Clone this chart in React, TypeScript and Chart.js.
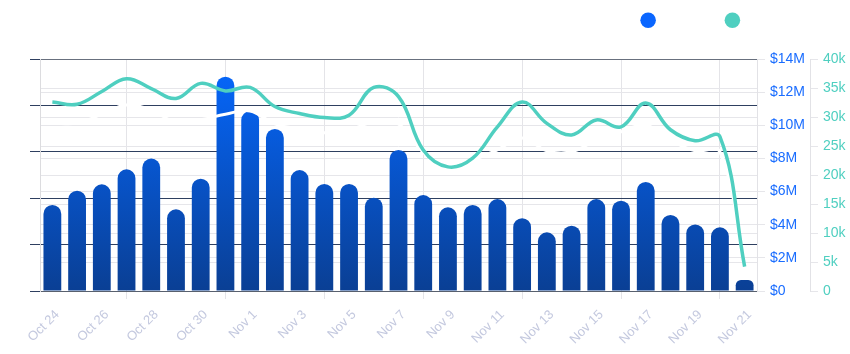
import React, { useEffect, useRef } from "react";
import { Chart, registerables } from "chart.js";

Chart.register(...registerables);

const categories = [
  "Oct 24", "Oct 25", "Oct 26", "Oct 27", "Oct 28", "Oct 29", "Oct 30", "Oct 31",
  "Nov 1", "Nov 2", "Nov 3", "Nov 4", "Nov 5", "Nov 6", "Nov 7", "Nov 8", "Nov 9",
  "Nov 10", "Nov 11", "Nov 12", "Nov 13", "Nov 14", "Nov 15", "Nov 16", "Nov 17",
  "Nov 18", "Nov 19", "Nov 20", "Nov 21",
];

// Volume in millions of USD
const volumeMillions = [
  5.19, 6.05, 6.44, 7.34, 7.99, 4.93, 6.78, 12.93, 10.86, 9.78, 7.3, 6.46, 6.46, 5.63,
  8.51, 5.79, 5.05, 5.19, 5.55, 4.39, 3.54, 3.94, 5.55, 5.45, 6.58, 4.59, 4.02, 3.84, 0.66,
];

// Transactions in thousands
const transactionsK = [
  32.6, 32.2, 34.4, 36.6, 34.9, 33.2, 35.8, 34.5, 35.1, 31.8, 30.6, 29.9, 30.3, 35.1,
  33.5, 24.3, 21.4, 22.9, 28.3, 32.6, 28.9, 26.9, 29.5, 28.3, 32.4, 27.8, 25.9, 26.6, 4.2,
];

// Hidden (white) series on the left axis
const hiddenSeries = [
  36.2, 36.2, 38.1, 40.1, 39.0, 36.4, 36.9, 38.1, 38.8, 36.0, 34.9, 34.1, 34.7, 36.4,
  36.0, 29.9, 26.5, 28.2, 30.4, 33.0, 30.2, 30.0, 32.5, 34.3, 35.8, 32.5, 30.2, 30.0, 5.2,
];

const volumeTicksM = [0, 2, 4, 6, 8, 10, 12, 14];
const txTicksK = [0, 5, 10, 15, 20, 25, 30, 35, 40];
const seriesNames = ["Volume", "Transactions"];

const FONT = "'Liberation Sans', Arial, Helvetica, sans-serif";
const BLUE = "#0a66ff";
const TEAL = "#4fcfc0";
const LIGHT_GRID = "#e6e6ea";
const TOP_GRID = "#68707e";

export default function App() {
  const canvasRef = useRef<HTMLCanvasElement | null>(null);

  useEffect(() => {
    const canvas = canvasRef.current;
    if (!canvas) return;

    const legendSpacer = {
      id: "legendSpacer",
      beforeInit(chart: any) {
        const legend = chart.legend;
        if (!legend) return;
        const origFit = legend.fit;
        legend.fit = function () {
          origFit.call(this);
          this.height = 57;
        };
      },
    };

    const rightGridColor = (max: number) => (ctx: any) =>
      ctx.tick && ctx.tick.value === max ? TOP_GRID : LIGHT_GRID;

    const chart = new Chart(canvas, {
      type: "bar",
      data: {
        labels: categories,
        datasets: [
          {
            type: "bar",
            label: seriesNames[0],
            data: volumeMillions,
            yAxisID: "y",
            order: 2,
            borderRadius: 9,
            borderWidth: 0,
            backgroundColor: (ctx: any) => {
              const area = ctx.chart.chartArea;
              if (!area) return BLUE;
              const g = ctx.chart.ctx.createLinearGradient(0, area.bottom, 0, area.top);
              g.addColorStop(0, "#0a3f94");
              g.addColorStop(1, "#0568ff");
              return g;
            },
          } as any,
          {
            type: "line",
            label: "hidden",
            data: hiddenSeries,
            yAxisID: "yL",
            order: 1,
            borderColor: "#ffffff",
            borderWidth: 3,
            pointRadius: 0,
            tension: 0.4,
            fill: false,
          } as any,
          {
            type: "line",
            label: seriesNames[1],
            data: transactionsK,
            yAxisID: "y2",
            order: 0,
            borderColor: TEAL,
            backgroundColor: TEAL,
            borderWidth: 3.5,
            pointRadius: 0,
            tension: 0.4,
            fill: false,
          } as any,
        ],
      },
      options: {
        animation: false,
        responsive: true,
        maintainAspectRatio: false,
        layout: { padding: { top: 2, left: 0, right: 0, bottom: 0 } },
        plugins: {
          tooltip: { enabled: false },
          legend: {
            display: true,
            position: "top",
            align: "end",
            labels: {
              usePointStyle: true,
              boxWidth: 11,
              boxHeight: 11,
              padding: 10,
              color: "#ffffff",
              font: { size: 16.5, family: FONT },
              generateLabels: () => [
                {
                  text: seriesNames[0],
                  fillStyle: BLUE,
                  strokeStyle: BLUE,
                  lineWidth: 0,
                  pointStyle: "circle",
                  hidden: false,
                  datasetIndex: 0,
                  fontColor: "#ffffff",
                },
                {
                  text: seriesNames[1],
                  fillStyle: TEAL,
                  strokeStyle: TEAL,
                  lineWidth: 0,
                  pointStyle: "circle",
                  hidden: false,
                  datasetIndex: 2,
                  fontColor: "#ffffff",
                },
              ],
            },
          },
        },
        scales: {
          x: {
            grid: { color: "#e4e4e8", tickLength: 8, offset: true },
            border: { color: "#58606e" },
            ticks: {
              color: "#c4c9df",
              font: { size: 13, family: FONT },
              minRotation: 45,
              maxRotation: 45,
              autoSkip: true,
              maxTicksLimit: 15,
              labelOffset: 5,
              padding: 8,
            },
            afterFit: (s: any) => {
              s.height = 63;
            },
          },
          yL: {
            position: "left",
            min: 0,
            max: 50,
            ticks: { stepSize: 10, display: false },
            grid: { color: "#2e3f60", tickLength: 10 },
            border: { color: "#dcdcdf" },
            afterFit: (s: any) => {
              s.width = 40;
            },
          },
          y: {
            position: "right",
            weight: 1,
            min: 0,
            max: 14,
            afterBuildTicks: (s: any) => {
              s.ticks = volumeTicksM.map((v) => ({ value: v }));
            },
            ticks: {
              color: "#1a6dff",
              padding: 5,
              font: { size: 14, family: FONT },
              callback: (v: any) => (Number(v) === 0 ? "$0" : `$${v}M`),
            },
            grid: { color: rightGridColor(14), tickColor: LIGHT_GRID, tickLength: 8 },
            border: { color: "#e2e2e6" },
            afterFit: (s: any) => {
              s.width = 53;
            },
          },
          y2: {
            position: "right",
            weight: 2,
            min: 0,
            max: 40,
            afterBuildTicks: (s: any) => {
              s.ticks = txTicksK.map((v) => ({ value: v }));
            },
            ticks: {
              color: TEAL,
              padding: 5,
              font: { size: 14, family: FONT },
              callback: (v: any) => (Number(v) === 0 ? "0" : `${v}k`),
            },
            grid: { color: rightGridColor(40), tickColor: LIGHT_GRID, tickLength: 8 },
            border: { color: "#e2e2e6" },
            afterFit: (s: any) => {
              s.width = 40;
            },
          },
        },
      } as any,
      plugins: [legendSpacer],
    });

    return () => {
      chart.destroy();
    };
  }, []);

  return (
    <div style={{ position: "absolute", left: 0, top: 0, width: 850, height: 354 }}>
      <canvas ref={canvasRef} />
    </div>
  );
}
